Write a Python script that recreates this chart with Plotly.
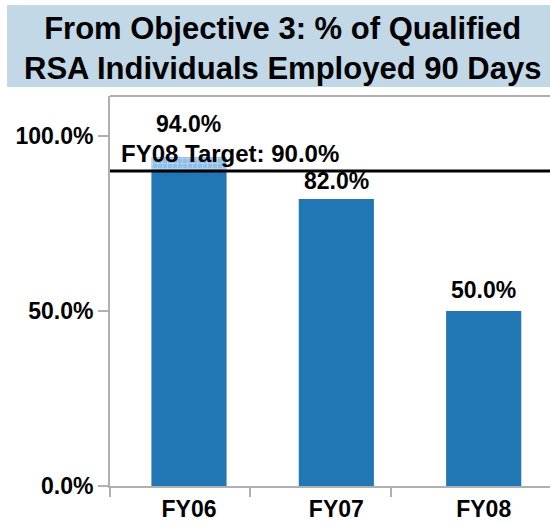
import plotly.graph_objects as go

categories = ["FY06", "FY07", "FY08"]
values = [94.0, 82.0, 50.0]
target = 90.0
target_label = "FY08 Target: 90.0%"
title_lines = ["From Objective 3: % of Qualified", "RSA Individuals Employed 90 Days"]
ytick_vals = [0, 50, 100]
ytick_text = ["0.0%", "50.0%", "100.0%"]

BLUE = "#2077b4"
FONT = "Liberation Sans, Arial, sans-serif"
xs = list(range(len(categories)))

below = [min(v, target) for v in values]
above = [max(v - target, 0) for v in values]

fig = go.Figure()
fig.add_trace(go.Bar(x=xs, y=below, marker=dict(color=BLUE, line=dict(width=0)),
                     width=0.51, hoverinfo="skip"))
fig.add_trace(go.Bar(x=xs, y=above, base=below,
                     marker=dict(color="#8fbfe6", line=dict(width=0),
                                 pattern=dict(shape="+", fgcolor="white", bgcolor="#8fbfe6",
                                              size=5, solidity=0.2)),
                     width=0.51, hoverinfo="skip"))
# invisible trace to activate xaxis2 (tick marks at boundaries)
fig.add_trace(go.Scatter(x=[0], y=[0], xaxis="x2", mode="markers",
                         marker=dict(opacity=0), hoverinfo="skip", showlegend=False))

shifts = [18, 3, 6]
for x, v, s in zip(xs, values, shifts):
    fig.add_annotation(x=x, y=v, text=f"<b>{v:.1f}%</b>", showarrow=False,
                       yanchor="bottom", yshift=s, font=dict(size=23, color="black", family=FONT))

fig.add_annotation(x=0.020, xref="paper", y=target, yref="y", text=f"<b>{target_label}</b>",
                   showarrow=False, xanchor="left", yanchor="bottom", yshift=2,
                   font=dict(size=24, color="black", family=FONT))

fig.add_shape(type="line", xref="paper", x0=0, x1=1, yref="y", y0=target, y1=target,
              line=dict(color="black", width=3))

# title box
fig.add_shape(type="rect", xref="paper", yref="paper", x0=-0.234, x1=1.0, y0=1.023, y1=1.2333,
              fillcolor="#c3d8e6", line=dict(width=0), layer="below")
fig.add_annotation(xref="paper", yref="paper", x=0.391, y=1.1222, text="<b>" + "<br>".join(title_lines) + "</b>",
                   showarrow=False, xanchor="center", yanchor="middle",
                   font=dict(size=31, color="black", family=FONT), align="center")

fig.update_layout(
    width=550, height=525,
    margin=dict(l=110, r=0, t=96, b=39),
    paper_bgcolor="white", plot_bgcolor="white",
    showlegend=False, barmode="overlay",
    xaxis=dict(range=[-0.536, 2.45], tickvals=xs, ticktext=[f"<b>{c}</b>" for c in categories],
               showgrid=False, zeroline=False, showline=True, linecolor="#b0b0b0", linewidth=2,
               ticks="", ticklabelstandoff=1, tickfont=dict(size=23, color="black", family=FONT)),
    xaxis2=dict(overlaying="x", range=[-0.536, 2.45], tickvals=[-0.536, 0.413, 1.37],
                showticklabels=False, ticks="outside", ticklen=10, tickcolor="#b0b0b0", tickwidth=2,
                showgrid=False, zeroline=False, showline=False, side="bottom"),
    yaxis=dict(range=[0, 111.4], tickvals=ytick_vals, ticktext=[f"<b>{t}</b>" for t in ytick_text],
               showgrid=False, zeroline=False, showline=True, linecolor="#b0b0b0", linewidth=2,
               ticks="outside", ticklen=10, tickcolor="#b0b0b0", tickwidth=2,
               tickfont=dict(size=23, color="black", family=FONT)),
)
fig.add_shape(type="line", xref="paper", yref="paper", x0=0, x1=1, y0=1, y1=1,
              line=dict(color="#b0b0b0", width=2))

fig.write_html("out.html", config={"displayModeBar": False},
               post_script="document.body.style.margin='0';")
